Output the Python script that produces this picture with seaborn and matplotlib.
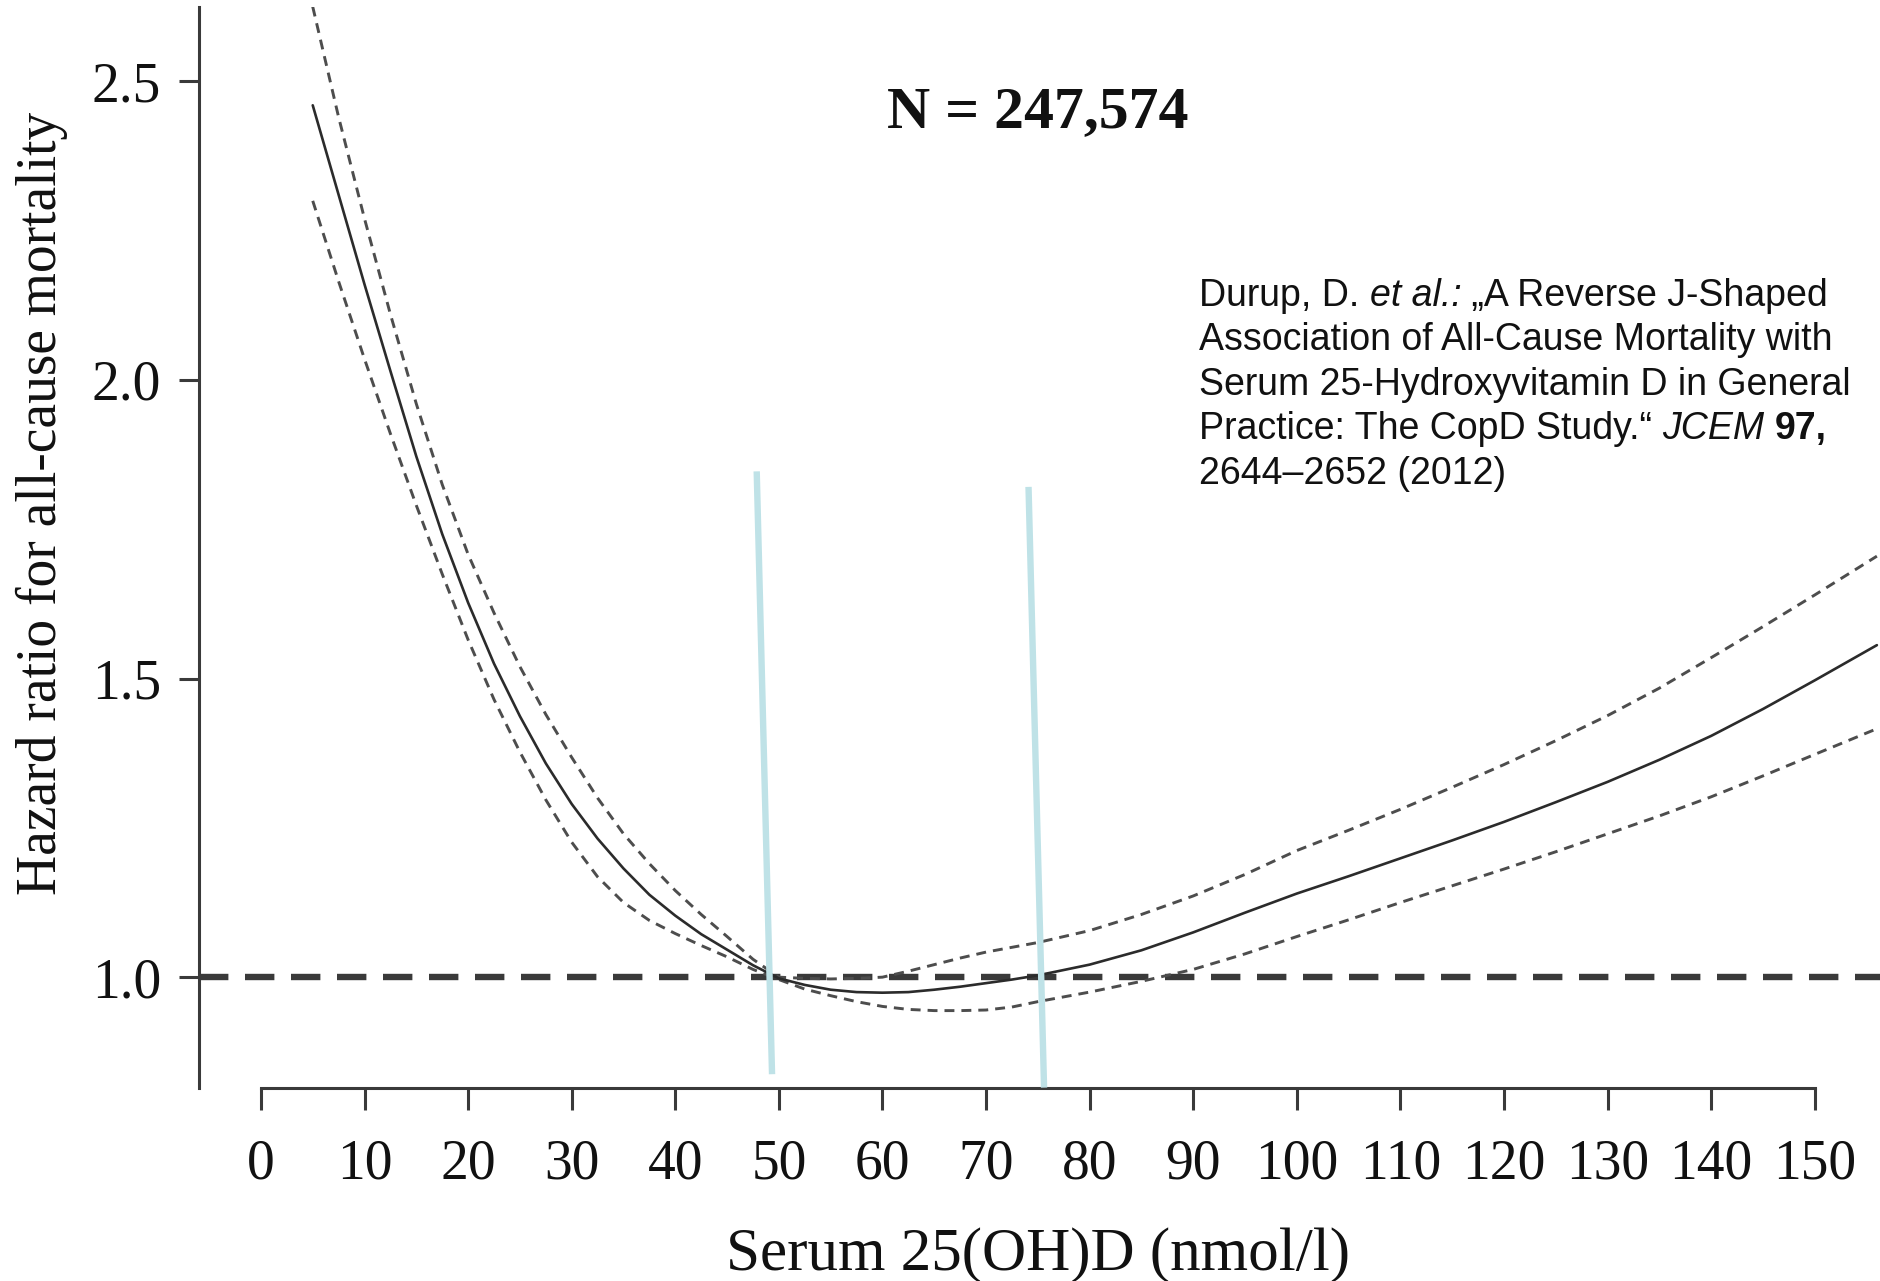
import numpy as np
import pandas as pd
import matplotlib
matplotlib.use("Agg")
import matplotlib.pyplot as plt
import seaborn as sns

# ---------------- data ----------------
serum_x = [5, 7.5, 10, 12.5, 15, 17.5, 20, 22.5, 25, 27.5, 30, 32.5, 35, 37.5,
           40, 42.5, 45, 47.5, 50, 52.5, 55, 57.5, 60, 62.5, 65, 67.5, 70, 72.5,
           75, 80, 85, 90, 95, 100, 105, 110, 115, 120, 125, 130, 135, 140, 145,
           150, 156]
hr_central = [2.46, 2.31, 2.16, 2.015, 1.872, 1.742, 1.627, 1.525, 1.437, 1.358,
              1.29, 1.232, 1.182, 1.138, 1.103, 1.072, 1.046, 1.02, 0.998, 0.987,
              0.979, 0.975, 0.974, 0.975, 0.979, 0.984, 0.99, 0.996, 1.003, 1.021,
              1.045, 1.075, 1.108, 1.140, 1.169, 1.199, 1.229, 1.26, 1.293, 1.327,
              1.364, 1.404, 1.449, 1.497, 1.556]
hr_upper = [2.625, 2.44, 2.27, 2.11, 1.96, 1.825, 1.708, 1.61, 1.52, 1.44,
            1.368, 1.30, 1.24, 1.19, 1.145, 1.105, 1.068, 1.03, 1.0, 0.998,
            0.997, 0.998, 1.0, 1.01, 1.021, 1.032, 1.042, 1.05, 1.058, 1.078,
            1.105, 1.136, 1.172, 1.212, 1.246, 1.281, 1.318, 1.356, 1.396, 1.438,
            1.484, 1.535, 1.587, 1.64, 1.705]
hr_lower = [2.30, 2.165, 2.035, 1.91, 1.79, 1.675, 1.565, 1.465, 1.377, 1.297,
            1.226, 1.168, 1.125, 1.095, 1.073, 1.053, 1.034, 1.013, 0.996, 0.98,
            0.969, 0.959, 0.951, 0.946, 0.944, 0.944, 0.945, 0.95, 0.959, 0.975,
            0.993, 1.013, 1.039, 1.068, 1.096, 1.125, 1.153, 1.181, 1.21, 1.24,
            1.27, 1.302, 1.337, 1.373, 1.416]
reference_hr = 1.0
x_ticks = list(range(0, 151, 10))
y_ticks = [1.0, 1.5, 2.0, 2.5]
y_tick_labels = ["1.0", "1.5", "2.0", "2.5"]
marker_line_x = [[47.86, 49.34], [74.1, 75.6]]
marker_line_y = [[1.847, 0.8375], [1.821, 0.815]]
x_label = "Serum 25(OH)D (nmol/l)"
y_label = "Hazard ratio for all-cause mortality"
n_label = "N = 247,574"
citation = [
    [("Durup, D. ", "normal", "normal"), ("et al.:", "italic", "normal"),
     (" \u201eA Reverse J-Shaped", "normal", "normal")],
    [("Association of All-Cause Mortality with", "normal", "normal")],
    [("Serum 25-Hydroxyvitamin D in General", "normal", "normal")],
    [("Practice: The CopD Study.\u201c ", "normal", "normal"), ("JCEM", "italic", "normal"),
     (" ", "normal", "normal"), ("97,", "normal", "bold")],
    [("2644\u20132652 (2012)", "normal", "normal")],
]

# ---------------- style ----------------
sns.set_theme(style="white")
plt.rcParams["font.family"] = ["Liberation Serif", "DejaVu Serif"]

fig = plt.figure(figsize=(18.8, 12.81), dpi=100)
fig.patch.set_facecolor("white")
ax = fig.add_axes([199 / 1880, (1281 - 1088) / 1281, 1 - 199 / 1880, (1088 - 7) / 1281])
ax.set_facecolor("white")

df = pd.DataFrame({"x": serum_x, "central": hr_central,
                   "upper": hr_upper, "lower": hr_lower})

# reference line
ax.axhline(reference_hr, color="#3a3a3a", lw=4.6, linestyle=(0, (4.6, 2.6)), zorder=2)

sns.lineplot(data=df, x="x", y="upper", ax=ax, color="#4d4d4d", lw=2.1,
             linestyle=(0, (3.4, 2.4)), errorbar=None, zorder=3)
sns.lineplot(data=df, x="x", y="lower", ax=ax, color="#4d4d4d", lw=2.1,
             linestyle=(0, (3.4, 2.4)), errorbar=None, zorder=3)
sns.lineplot(data=df, x="x", y="central", ax=ax, color="#2b2b2b", lw=1.9,
             errorbar=None, zorder=4)

for mx, my in zip(marker_line_x, marker_line_y):
    ax.plot(mx, my, color="#bfe2e7", lw=4.6, solid_capstyle="butt",
            clip_on=False, zorder=6)

ax.set_xlim(-5.98, 156.3)
ax.set_ylim(0.8144, 2.6246)

for s in ["top", "right"]:
    ax.spines[s].set_visible(False)
for s in ["left", "bottom"]:
    ax.spines[s].set_color("#3a3a3a")
    ax.spines[s].set_linewidth(2.2)
ax.spines["bottom"].set_bounds(0, 150)

ax.set_xticks(x_ticks)
ax.set_xticklabels([str(t) for t in x_ticks])
ax.set_yticks(y_ticks)
ax.set_yticklabels(y_tick_labels)
ax.tick_params(axis="x", direction="out", length=15.6, width=2.2, color="#3a3a3a",
               pad=21, labelsize=40, labelcolor="#111111", bottom=True)
ax.tick_params(axis="y", direction="out", length=14.4, width=2.2, color="#3a3a3a",
               pad=13, labelsize=40, labelcolor="#111111", left=True)
ax.grid(False)

ax.set_xlabel(x_label, fontsize=44, color="#111111", va="baseline")
ax.xaxis.set_label_coords(0.499, -0.1684)
ax.set_ylabel(y_label, fontsize=40, color="#111111", va="center")
ax.yaxis.set_label_coords(-0.0934, 0.541)

ax.text(75, 2.424, n_label, ha="center", va="baseline", fontsize=43,
        fontweight="bold", color="#111111")

# citation block
cx = 1199 / 1880
baselines = [306, 350.4, 394.8, 439.2, 483.6]
for line, by in zip(citation, baselines):
    prev = None
    for text, style, weight in line:
        kw = dict(fontsize=27, family=["Liberation Sans", "DejaVu Sans"],
                  style=style, weight=weight, color="#111111")
        if prev is None:
            prev = fig.text(cx, 1 - by / 1281, text, ha="left", va="baseline", **kw)
        else:
            prev = ax.annotate(text, xy=(1, 0), xycoords=prev, ha="left",
                               va="bottom", annotation_clip=False, **kw)

fig.savefig("out.png", dpi=100, facecolor="white")
